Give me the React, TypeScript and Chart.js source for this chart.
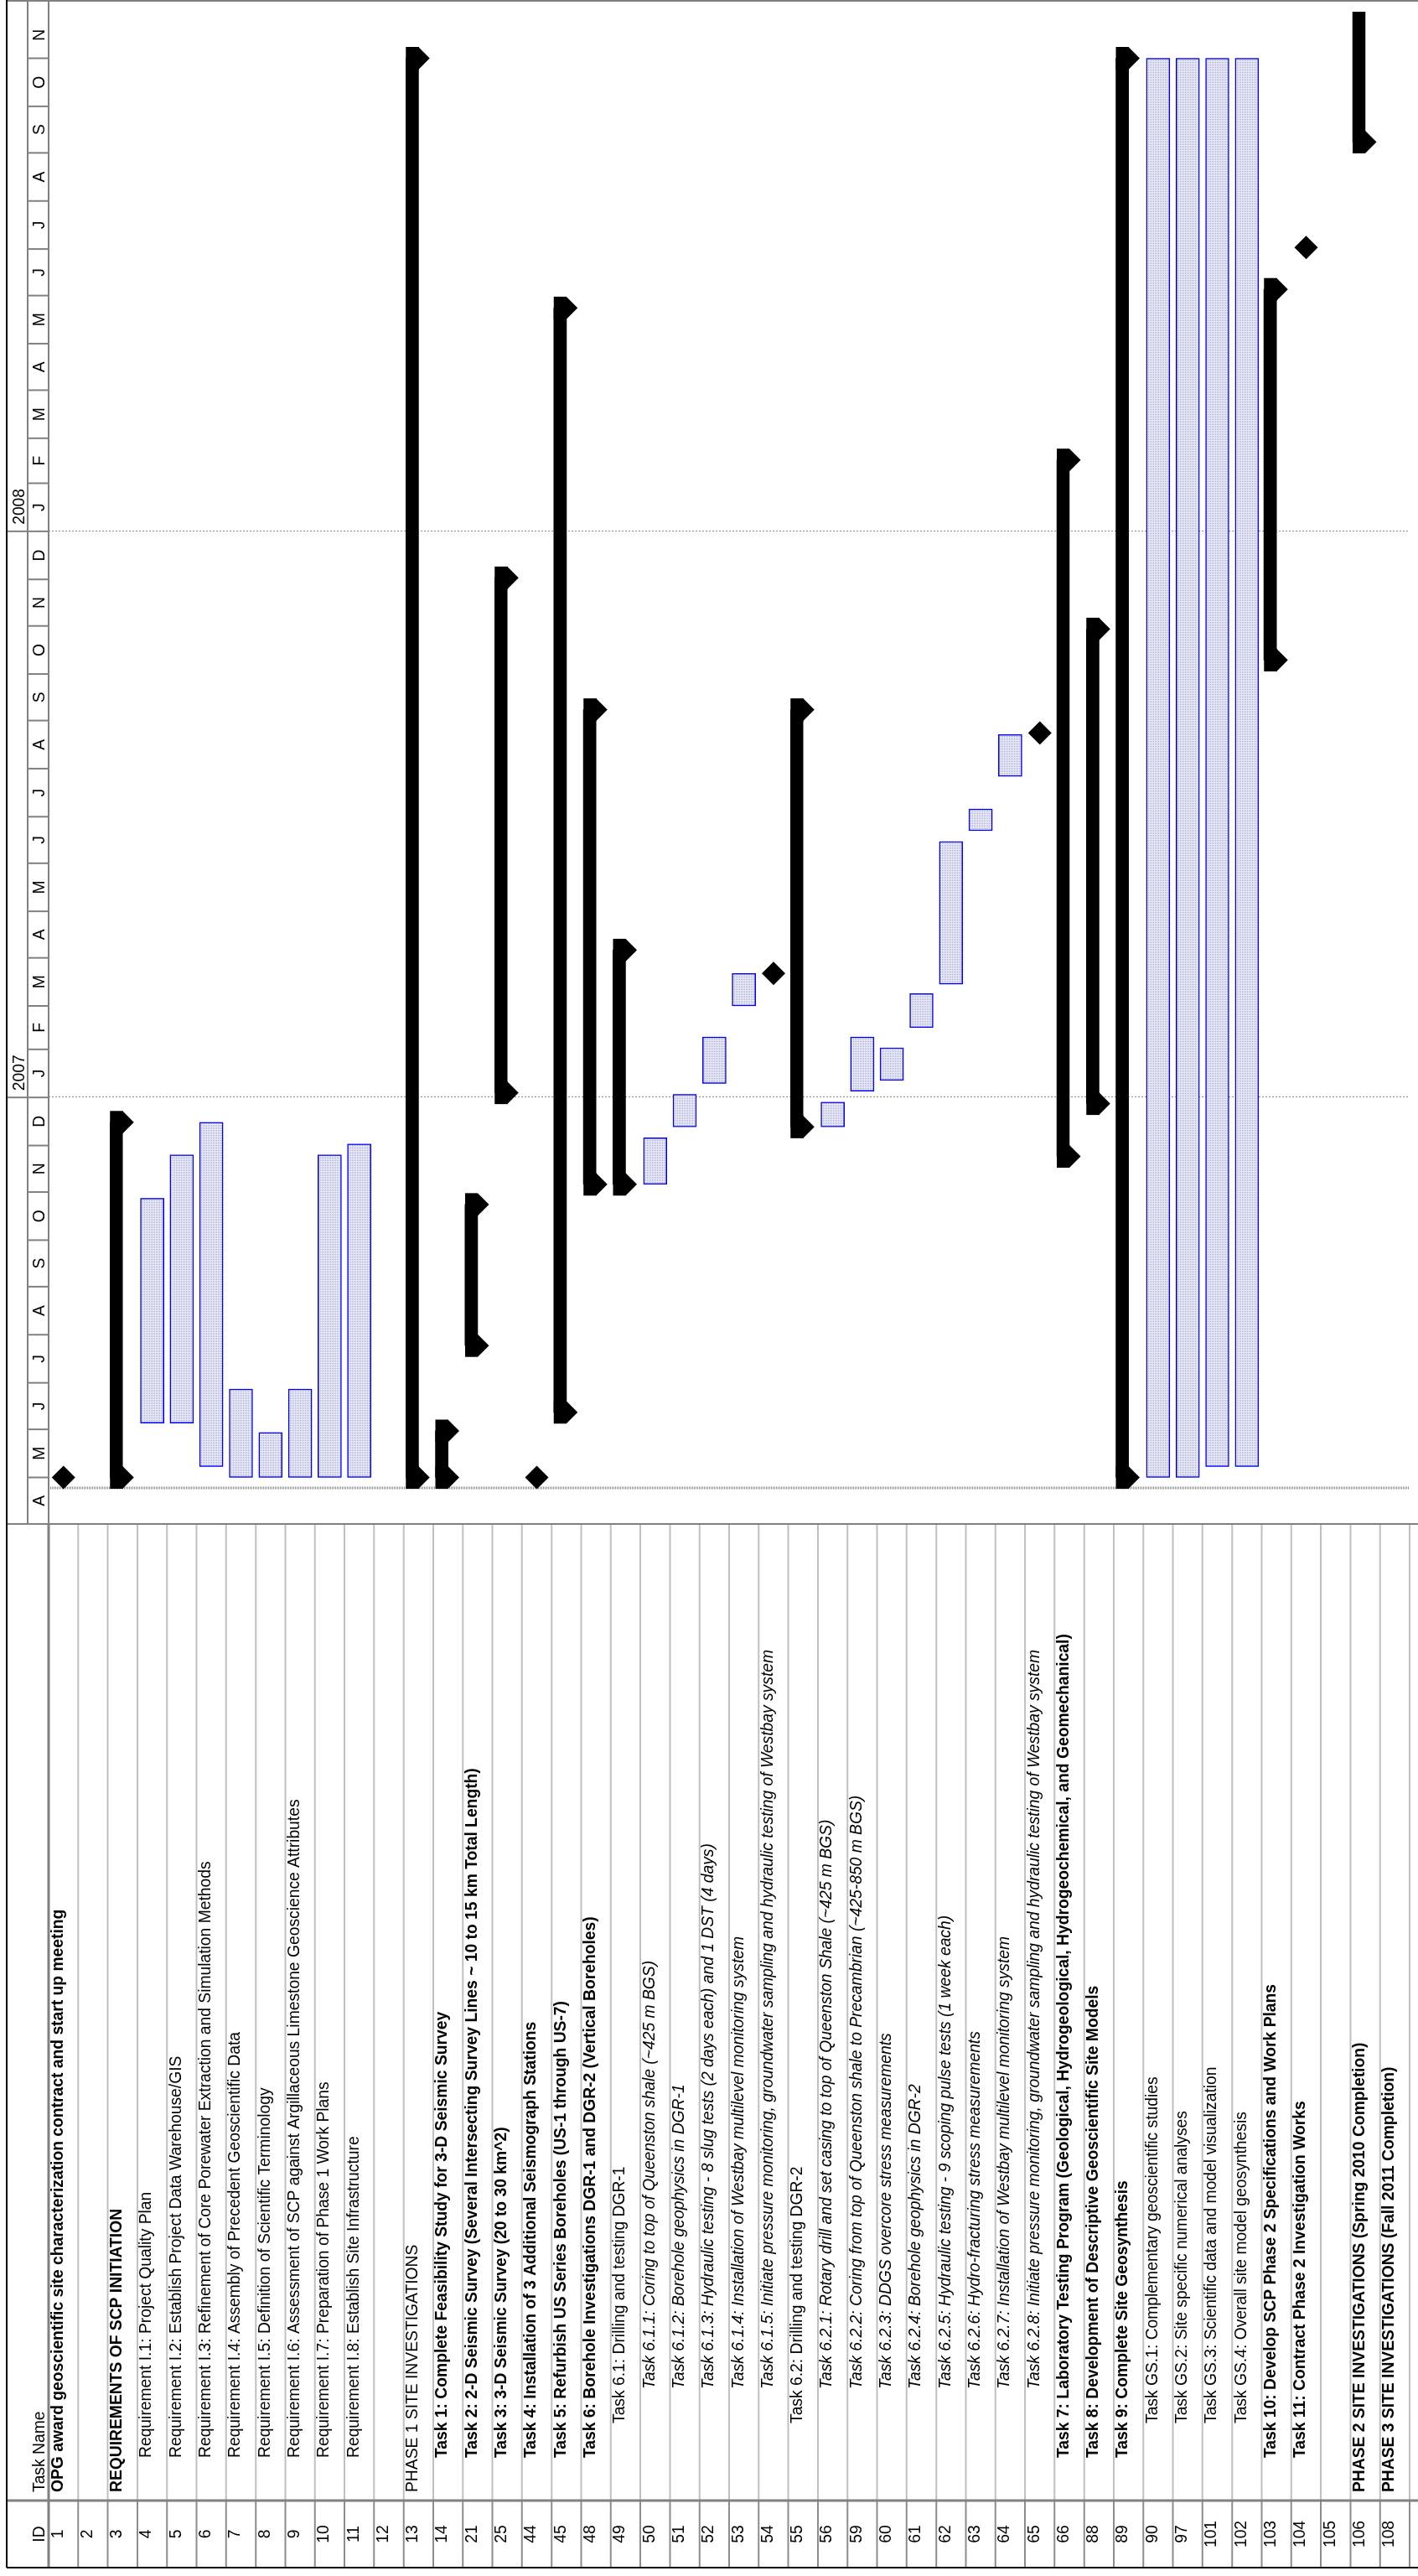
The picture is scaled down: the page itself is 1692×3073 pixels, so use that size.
import React, { useEffect, useRef } from 'react';
import { Chart, registerables } from 'chart.js';

Chart.register(...registerables);

// ---------- data ----------
const taskIds = ['1', '2', '3', '4', '5', '6', '7', '8', '9', '10', '11', '12', '13', '14', '21', '25', '44', '45', '48', '49', '50', '51', '52', '53', '54', '55', '56', '59', '60', '61', '62', '63', '64', '65', '66', '88', '89', '90', '97', '101', '102', '103', '104', '105', '106', '108'];

const taskNames = [
  'OPG award geoscientific site characterization contract and start up meeting',
  '',
  'REQUIREMENTS OF SCP INITIATION',
  'Requirement I.1: Project Quality Plan',
  'Requirement I.2: Establish Project Data Warehouse/GIS',
  'Requirement I.3: Refinement of Core Porewater Extraction and Simulation Methods',
  'Requirement I.4: Assembly of Precedent Geoscientific Data',
  'Requirement I.5: Definition of Scientific Terminology',
  'Requirement I.6: Assessment of SCP against Argillaceous Limestone Geoscience Attributes',
  'Requirement I.7: Preparation of Phase 1 Work Plans',
  'Requirement I.8: Establish Site Infrastructure',
  '',
  'PHASE 1 SITE INVESTIGATIONS',
  'Task 1: Complete Feasibility Study for 3-D Seismic Survey',
  'Task 2: 2-D Seismic Survey (Several Intersecting Survey Lines ~ 10 to 15 km Total Length)',
  'Task 3: 3-D Seismic Survey (20 to 30 km^2)',
  'Task 4: Installation of 3 Additional Seismograph Stations',
  'Task 5: Refurbish US Series Boreholes (US-1 through US-7)',
  'Task 6: Borehole Investigations DGR-1 and DGR-2 (Vertical Boreholes)',
  'Task 6.1: Drilling and testing DGR-1',
  'Task 6.1.1: Coring to top of Queenston shale (~425 m BGS)',
  'Task 6.1.2: Borehole geophysics in DGR-1',
  'Task 6.1.3: Hydraulic testing - 8 slug tests (2 days each) and 1 DST (4 days)',
  'Task 6.1.4: Installation of Westbay multilevel monitoring system',
  'Task 6.1.5: Initiate pressure monitoring, groundwater sampling and hydraulic testing of Westbay system',
  'Task 6.2: Drilling and testing DGR-2',
  'Task 6.2.1: Rotary drill and set casing to top of Queenston Shale (~425 m BGS)',
  'Task 6.2.2: Coring from top of Queenston shale to Precambrian (~425-850 m BGS)',
  'Task 6.2.3: DDGS overcore stress measurements',
  'Task 6.2.4: Borehole geophysics in DGR-2',
  'Task 6.2.5: Hydraulic testing - 9 scoping pulse tests (1 week each)',
  'Task 6.2.6: Hydro-fracturing stress measurements',
  'Task 6.2.7: Installation of Westbay multilevel monitoring system',
  'Task 6.2.8: Initiate pressure monitoring, groundwater sampling and hydraulic testing of Westbay system',
  'Task 7: Laboratory Testing Program (Geological, Hydrogeological, Hydrogeochemical, and Geomechanical)',
  'Task 8: Development of Descriptive Geoscientific Site Models',
  'Task 9: Complete Site Geosynthesis',
  'Task GS.1: Complementary geoscientific studies',
  'Task GS.2: Site specific numerical analyses',
  'Task GS.3: Scientific data and model visualization',
  'Task GS.4: Overall site model geosynthesis',
  'Task 10: Develop SCP Phase 2 Specifications and Work Plans',
  'Task 11: Contract Phase 2 Investigation Works',
  '',
  'PHASE 2 SITE INVESTIGATIONS (Spring 2010 Completion)',
  'PHASE 3 SITE INVESTIGATIONS (Fall 2011 Completion)',
];

const outlineLevels = [1, 1, 1, 2, 2, 2, 2, 2, 2, 2, 2, 1, 1, 2, 2, 2, 2, 2, 2, 3, 4, 4, 4, 4, 4, 3, 4, 4, 4, 4, 4, 4, 4, 4, 2, 2, 2, 3, 3, 3, 3, 2, 2, 1, 1, 1];

// b = bold, i = italic, n = normal
const nameStyles = ['b', 'n', 'b', 'n', 'n', 'n', 'n', 'n', 'n', 'n', 'n', 'n', 'n', 'b', 'b', 'b', 'b', 'b', 'b', 'n', 'i', 'i', 'i', 'i', 'i', 'n', 'i', 'i', 'i', 'i', 'i', 'i', 'i', 'i', 'b', 'b', 'b', 'n', 'n', 'n', 'n', 'b', 'b', 'n', 'b', 'b'];

const barKinds = ['milestone', 'none', 'summary', 'task', 'task', 'task', 'task', 'task', 'task', 'task', 'task', 'none', 'summary', 'summary', 'summary', 'summary', 'milestone', 'summary', 'summary', 'summary', 'task', 'task', 'task', 'task', 'milestone', 'summary', 'task', 'task', 'task', 'task', 'task', 'task', 'task', 'milestone', 'summary', 'summary', 'summary', 'task', 'task', 'task', 'task', 'summary', 'milestone', 'none', 'summary', 'none'];

const barStarts = ['2006-05-01', null, '2006-05-01', '2006-06-05', '2006-06-05', '2006-05-08', '2006-05-01', '2006-05-01', '2006-05-01', '2006-05-01', '2006-05-01', null, '2006-05-01', '2006-05-01', '2006-07-25', '2007-01-04', '2006-05-01', '2006-06-12', '2006-11-06', '2006-11-06', '2006-11-06', '2006-12-13', '2007-01-10', '2007-03-01', '2007-03-22', '2006-12-13', '2006-12-13', '2007-01-05', '2007-01-12', '2007-02-15', '2007-03-15', '2007-06-22', '2007-07-27', '2007-08-24', '2006-11-24', '2006-12-28', '2006-05-01', '2006-05-01', '2006-05-01', '2006-05-08', '2006-05-08', '2007-10-10', '2008-07-02', null, '2008-09-08', null];

const barEnds = [null, null, '2006-12-16', '2006-10-28', '2006-11-25', '2006-12-16', '2006-06-27', '2006-05-30', '2006-06-27', '2006-11-25', '2006-12-02', null, '2008-11-01', '2006-05-31', '2006-10-24', '2007-12-02', null, '2008-05-24', '2007-09-08', '2007-04-06', '2006-12-06', '2007-01-03', '2007-02-09', '2007-03-22', null, '2007-09-08', '2006-12-29', '2007-02-09', '2007-02-02', '2007-03-09', '2007-06-15', '2007-07-06', '2007-08-23', null, '2008-02-16', '2007-10-30', '2008-11-01', '2008-11-01', '2008-11-01', '2008-11-01', '2008-11-01', '2008-06-05', null, null, '2010-05-31', null];

const monthLetters = ['J', 'F', 'M', 'A', 'M', 'J', 'J', 'A', 'S', 'O', 'N', 'D'];
const yearLabels = ['2007', '2008'];
const timelineStart = '2006-04-01';
const timelineEnd = '2008-12-01';
const projectStart = '2006-04-24';

// ---------- helpers ----------
const dayNum = (s: string) => {
  const [y, m, d] = s.split('-').map(Number);
  return (Date.UTC(y, m - 1, d) - Date.UTC(2006, 0, 1)) / 86400000;
};

const W = 3073;
const H = 1696;
const FONT = '"Liberation Sans", Arial, Helvetica, sans-serif';
const FS = 19.3;
const TABLE_LEFT = 10;
const ID_RIGHT = 90;
const HDR_TOP = 8;
const TIER_MID = 33;
const HDR_BOTTOM = 58;
const CAP = 13.5;
const INDENT = [0, 100, 141, 182, 223];

function line(ctx: CanvasRenderingContext2D, x1: number, y1: number, x2: number, y2: number, color: string, w: number) {
  ctx.beginPath();
  ctx.strokeStyle = color;
  ctx.lineWidth = w;
  ctx.moveTo(x1, y1);
  ctx.lineTo(x2, y2);
  ctx.stroke();
}

const ganttPlugin = {
  id: 'ganttTable',
  beforeDatasetsDraw(chart: any) {
    const { ctx, chartArea: a } = chart;
    const x = chart.scales.x;
    ctx.save();
    ctx.setLineDash([2, 2]);
    for (const yl of yearLabels) {
      const px = Math.round(x.getPixelForValue(dayNum(`${yl}-01-01`))) + 0.5;
      line(ctx, px, a.top, px, a.bottom, '#8a8a8a', 1);
    }
    ctx.setLineDash([1, 1]);
    const ps = Math.round(x.getPixelForValue(dayNum(projectStart)));
    line(ctx, ps, a.top, ps, a.bottom, '#8a8a8a', 3);
    ctx.restore();
  },
  afterDatasetsDraw(chart: any) {
    const { ctx, chartArea: a } = chart;
    const meta = chart.getDatasetMeta(0);
    ctx.save();
    ctx.beginPath();
    ctx.rect(a.left, a.top, a.right - a.left, a.bottom - a.top);
    ctx.clip();
    ctx.fillStyle = '#000';
    meta.data.forEach((el: any, i: number) => {
      if (barKinds[i] !== 'summary') return;
      const { x: endPx, base: startPx, y, height } = el.getProps(['x', 'base', 'y', 'height'], true);
      const top = y - height / 2;
      const bot = y + height / 2;
      for (const c of [startPx, endPx]) {
        ctx.beginPath();
        ctx.moveTo(c - CAP, top);
        ctx.lineTo(c + CAP, top);
        ctx.lineTo(c + CAP, bot);
        ctx.lineTo(c, bot + CAP);
        ctx.lineTo(c - CAP, bot);
        ctx.closePath();
        ctx.fill();
      }
    });
    ctx.restore();
  },
  afterDraw(chart: any) {
    const { ctx, chartArea: a } = chart;
    const x = chart.scales.x;
    const n = taskIds.length;
    const rowH = (a.bottom - a.top) / n;
    const gl = a.left;
    ctx.save();

    // table row lines
    for (let i = 1; i <= n; i++) {
      const v = a.top + i * rowH;
      line(ctx, ID_RIGHT, v, gl, v, '#c0c0c0', 2);
      line(ctx, TABLE_LEFT, v, ID_RIGHT, v, '#8c8c8c', 2);
    }
    // main dividers
    line(ctx, TABLE_LEFT, HDR_BOTTOM, gl, HDR_BOTTOM, '#808080', 3);
    line(ctx, gl, HDR_BOTTOM, W, HDR_BOTTOM, '#808080', 2);
    line(ctx, ID_RIGHT, HDR_TOP, ID_RIGHT, H, '#808080', 3);
    line(ctx, gl, HDR_TOP, gl, H, '#808080', 2);
    line(ctx, gl, TIER_MID, W, TIER_MID, '#808080', 2);
    line(ctx, W - 1, HDR_TOP, W - 1, H, '#808080', 2);

    // timescale
    const t0 = dayNum(timelineStart);
    const t1 = dayNum(timelineEnd);
    ctx.fillStyle = '#000';
    ctx.font = `${FS}px ${FONT}`;
    ctx.textBaseline = 'alphabetic';
    for (let y = 2006; y <= 2008; y++) {
      for (let m = 0; m < 12; m++) {
        const s = dayNum(`${y}-${String(m + 1).padStart(2, '0')}-01`);
        if (s < t0 || s >= t1) continue;
        const e = m === 11 ? dayNum(`${y + 1}-01-01`) : dayNum(`${y}-${String(m + 2).padStart(2, '0')}-01`);
        const ps = x.getPixelForValue(s);
        const pe = x.getPixelForValue(e);
        if (s > t0) line(ctx, ps, TIER_MID, ps, HDR_BOTTOM, '#808080', 2);
        ctx.textAlign = 'center';
        ctx.fillText(monthLetters[m], (ps + pe) / 2, 52.5);
      }
    }
    for (const yl of yearLabels) {
      const ps = x.getPixelForValue(dayNum(`${yl}-01-01`));
      line(ctx, ps, HDR_TOP, ps, TIER_MID, '#808080', 2);
      ctx.textAlign = 'left';
      ctx.fillText(yl, ps + 8, 28.5);
    }

    // table header
    ctx.textAlign = 'center';
    ctx.fillText('ID', (TABLE_LEFT + ID_RIGHT) / 2, 53);
    ctx.textAlign = 'left';
    ctx.fillText('Task Name', INDENT[1], 53);

    // rows
    for (let i = 0; i < n; i++) {
      const top = a.top + i * rowH;
      ctx.font = `${FS}px ${FONT}`;
      ctx.textAlign = 'center';
      ctx.fillText(taskIds[i], (TABLE_LEFT + ID_RIGHT) / 2, top + 16.5);
      const st = nameStyles[i];
      ctx.font = `${st === 'i' ? 'italic ' : ''}${st === 'b' ? 'bold ' : ''}${FS}px ${FONT}`;
      ctx.textAlign = 'left';
      ctx.save();
      ctx.beginPath();
      ctx.rect(ID_RIGHT + 2, top, gl - ID_RIGHT - 4, rowH);
      ctx.clip();
      ctx.fillText(taskNames[i], INDENT[outlineLevels[i]], top + 16.5);
      ctx.restore();
    }

    // outer black border
    line(ctx, TABLE_LEFT, HDR_TOP, W, HDR_TOP, '#000', 2);
    line(ctx, TABLE_LEFT, HDR_TOP, TABLE_LEFT, H, '#000', 2);
    ctx.restore();
  },
};

export default function App() {
  const ref = useRef<HTMLCanvasElement>(null);

  useEffect(() => {
    const canvas = ref.current!;
    const summaryData = barKinds.map((k, i) => (k === 'summary' ? [dayNum(barStarts[i]!), dayNum(barEnds[i]!)] : null));
    const taskData = barKinds.map((k, i) => (k === 'task' ? [dayNum(barStarts[i]!), dayNum(barEnds[i]!)] : null));
    const milestoneData = barKinds
      .map((k, i) => (k === 'milestone' ? { x: dayNum(barStarts[i]!), y: taskIds[i] } : null))
      .filter((p) => p !== null);

    const tile = document.createElement('canvas');
    tile.width = 2;
    tile.height = 2;
    const tctx = tile.getContext('2d')!;
    tctx.fillStyle = '#ececff';
    tctx.fillRect(0, 0, 2, 2);
    tctx.fillStyle = '#a4a4f0';
    tctx.fillRect(0, 0, 1, 1);
    const pattern = canvas.getContext('2d')!.createPattern(tile, 'repeat')!;

    const chart = new Chart(canvas, {
      type: 'bar',
      data: {
        labels: taskIds,
        datasets: [
          { label: 'Summary', data: summaryData as any, backgroundColor: '#000', borderWidth: 0, barThickness: 15, stack: 'summary', grouped: true, clip: 0 } as any,
          { label: 'spacer', data: taskIds.map(() => null) as any, barThickness: 15, stack: 'spacer', grouped: true, clip: 0 } as any,
          { label: 'Task', data: taskData as any, backgroundColor: pattern, borderColor: '#0000ff', borderWidth: 1.5, borderSkipped: false, barThickness: 28, grouped: false, clip: 0 } as any,
          { type: 'line', label: 'Milestone', data: milestoneData as any, indexAxis: 'y', showLine: false, pointStyle: 'rectRot', pointRadius: 14, pointHoverRadius: 14, pointBackgroundColor: '#000', pointBorderWidth: 0, clip: 0 } as any,
        ],
      },
      options: {
        indexAxis: 'y',
        responsive: false,
        animation: false,
        devicePixelRatio: 1,
        events: [],
        layout: { padding: { left: 1255, right: 1, top: HDR_BOTTOM, bottom: 0 } },
        scales: {
          x: { type: 'linear', min: dayNum(timelineStart), max: dayNum(timelineEnd), display: false },
          y: { type: 'category', display: false, offset: true },
        },
        plugins: { legend: { display: false }, tooltip: { enabled: false } },
      } as any,
      plugins: [ganttPlugin],
    });
    return () => chart.destroy();
  }, []);

  return (
    <div style={{ position: 'absolute', left: 0, top: 0, width: 1692, height: 3073, overflow: 'hidden', background: '#fff' }}>
      <div
        style={{
          position: 'absolute',
          left: 0,
          top: 0,
          width: W,
          height: H,
          transformOrigin: '0 0',
          transform: `translate(0px, ${W}px) rotate(-90deg)`,
        }}
      >
        <canvas ref={ref} width={W} height={H} style={{ display: 'block', width: W, height: H }} />
      </div>
    </div>
  );
}
